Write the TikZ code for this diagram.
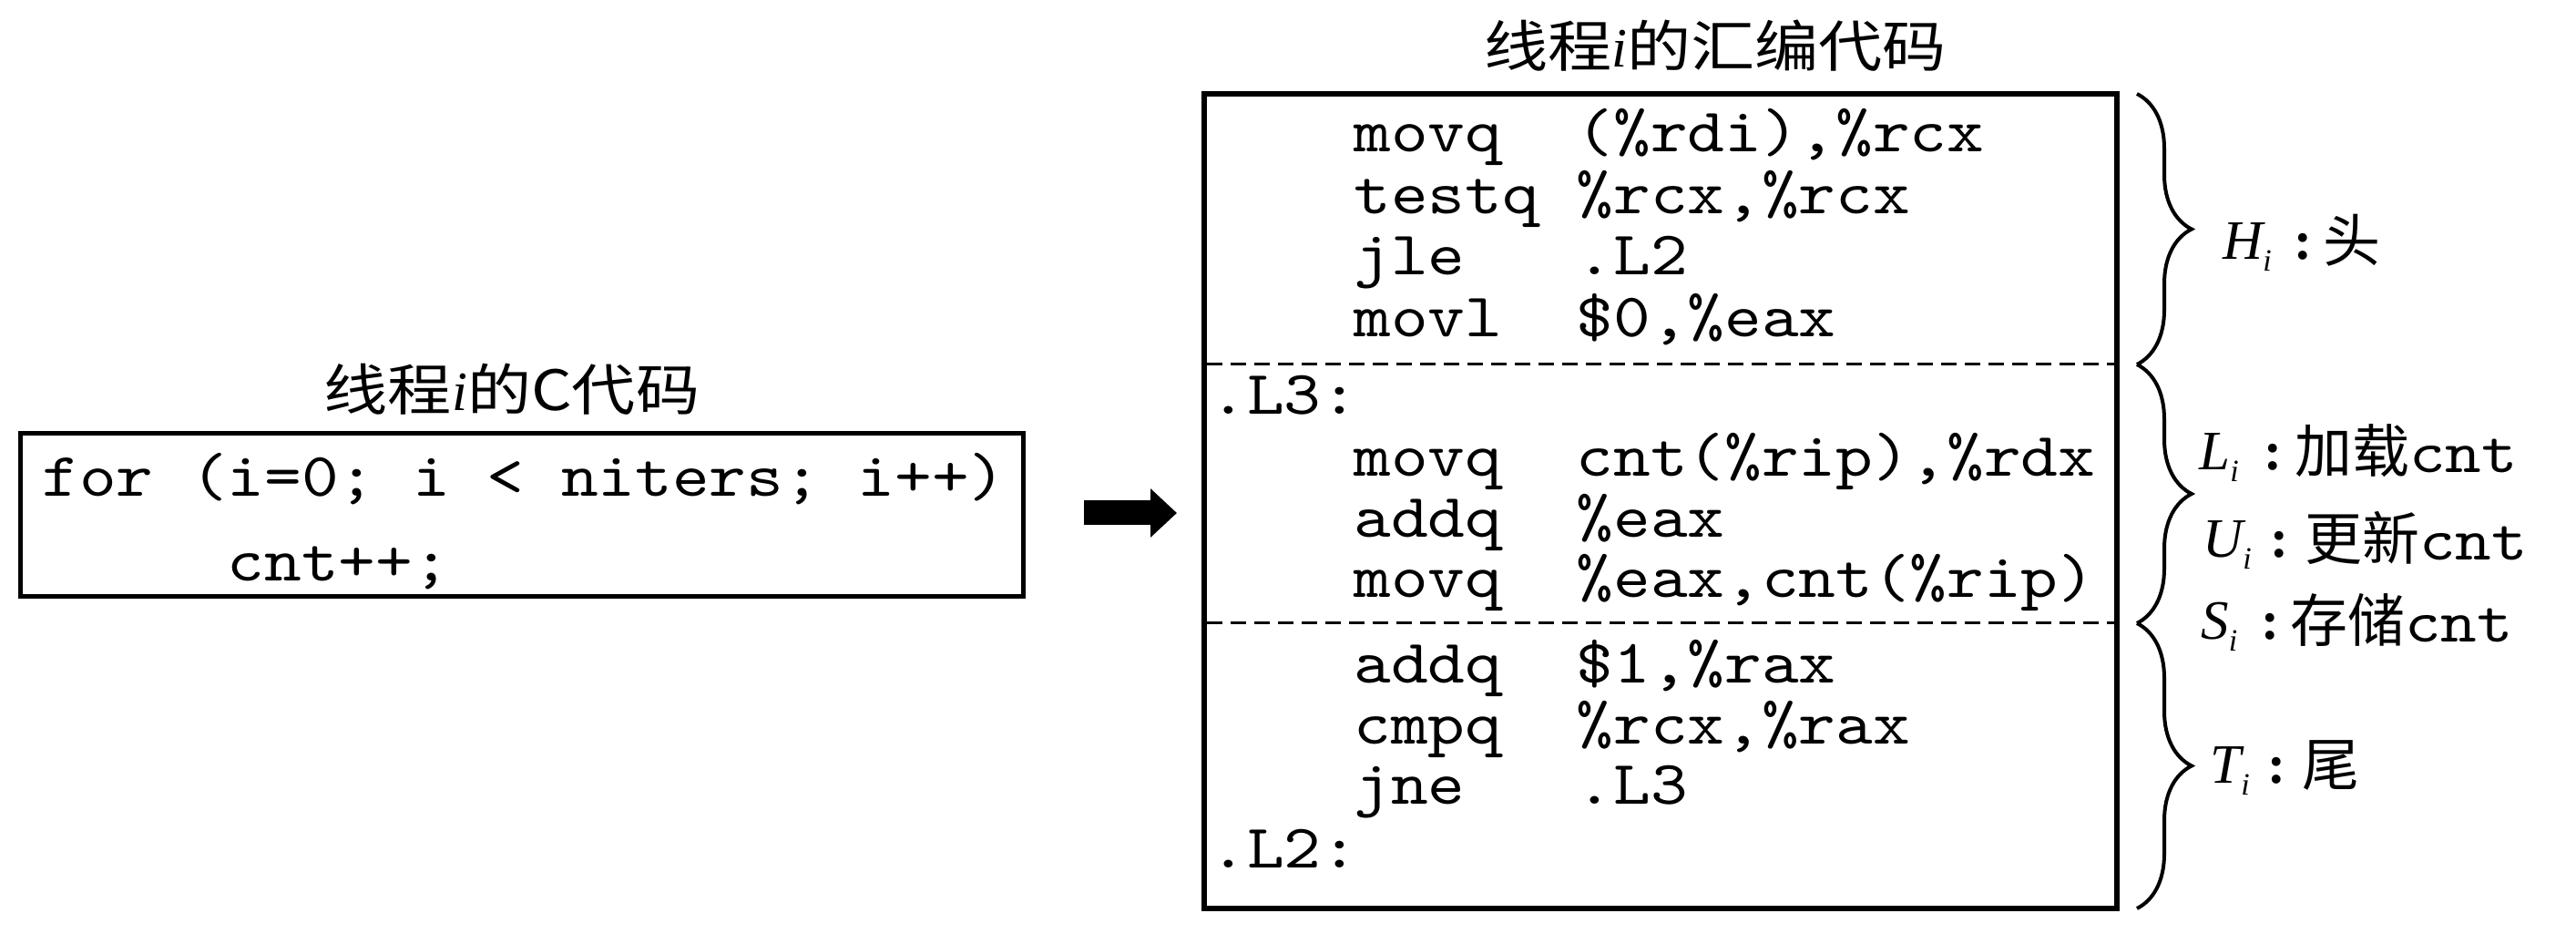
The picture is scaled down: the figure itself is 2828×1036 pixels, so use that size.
\documentclass[tikz,border=0pt]{standalone}
\usepackage{fontspec}
\newfontfamily\codefont{lmmono10-regular.otf}[FakeStretch=1.14]
\newfontfamily\cjkt[FakeStretch=1.15]{Noto Sans CJK SC}
\newfontfamily\cjkl{Noto Sans CJK SC}
\newfontfamily\timesf{Liberation Serif}
\usetikzlibrary{arrows.meta,decorations.pathreplacing}
\newcommand\subi{\raisebox{-0.2em}{\fontsize{17}{17}\selectfont i}}
\newcommand\cntw{{\fontsize{33}{33}\selectfont\codefont cnt}}
\begin{document}
\begin{tikzpicture}[x=0.5pt,y=-0.5pt,
  code/.style={font=\fontsize{34}{34}\selectfont\codefont, inner sep=0pt, anchor=base west},
  titlestyle/.style={font=\fontsize{30.5}{30.5}\selectfont\cjkt, inner sep=0pt, anchor=base},
  lbl/.style={font=\fontsize{30.5}{30.5}\selectfont\timesf\itshape, inner sep=0pt, anchor=base west},
  colonstyle/.style={font=\fontsize{30}{30}\selectfont\timesf\bfseries, inner sep=0pt, anchor=base},
  ltxt/.style={font=\fontsize{31.5}{31.5}\selectfont\cjkl, inner sep=0pt, anchor=base west},
  boxstyle/.style={draw=black, inner sep=0pt},
  dashline/.style={line width=1.5pt, dash pattern=on 8.5pt off 4.5pt},
  bracestyle/.style={line width=2pt, decorate, decoration={brace, amplitude=30pt}},
  bigarrow/.style={line width=13.5pt, -{Triangle[width=26pt,length=14.5pt]}}
]
\useasboundingbox (0,0) rectangle (2828,1036);
\fill[white] (0,0) rectangle (2828,1036);

% titles
\node[titlestyle] (t1) at (1883,74) {线程{\timesf\itshape i}的汇编代码};
\node[titlestyle] (t2) at (562,451) {线程{\timesf\itshape i}的C代码};

% left box
\node[boxstyle, line width=2.5pt, minimum width=550.5pt, minimum height=89.5pt] (leftbox) at (572.5,565.5) {};
\node[code] (c1) at (46,545) {for~(i=0;~i~<~niters;~i++)};
\node[code] (c2) at (46,638) {~~~~~cnt++;};

% arrow
\coordinate (arrS) at (1190,563);
\coordinate (arrE) at (1292,563);
\draw[bigarrow] (arrS) -- (arrE);

% right box
\node[boxstyle, line width=3pt, minimum width=501pt, minimum height=447pt] (rightbox) at (1823,550) {};
\draw[dashline] (1325,400) -- (2321,400);
\draw[dashline] (1325,684) -- (2321,684);

\node[code] (a1) at (1486,167) {movq~~(\%rdi),\%rcx};
\node[code] (a2) at (1486,235) {testq~\%rcx,\%rcx};
\node[code] (a3) at (1486,302) {jle~~~.L2};
\node[code] (a4) at (1486,370) {movl~~\$0,\%eax};
\node[code] (l3) at (1328,455) {.L3:};
\node[code] (a5) at (1486,523) {movq~~cnt(\%rip),\%rdx};
\node[code] (a6) at (1486,590) {addq~~\%eax};
\node[code] (a7) at (1486,656) {movq~~\%eax,cnt(\%rip)};
\node[code] (a8) at (1486,750) {addq~~\$1,\%rax};
\node[code] (a9) at (1486,817) {cmpq~~\%rcx,\%rax};
\node[code] (a10) at (1486,883) {jne~~~.L3};
\node[code] (l2) at (1328,952) {.L2:};

% braces
\draw[bracestyle] (2346,103) -- (2346,400);
\draw[bracestyle] (2346,400) -- (2346,684);
\draw[bracestyle] (2346,684) -- (2346,997);

% labels
\node[lbl] (hl) at (2440,285) {H\subi};
\node[colonstyle] (hc) at (2528,285) {:};
\node[ltxt] (ht) at (2550,288) {头};

\node[lbl] (ll) at (2414,516) {L\subi};
\node[colonstyle] (lc) at (2495,516) {:};
\node[ltxt] (lt) at (2519,519) {加载\cntw};

\node[lbl] (ul) at (2418,612) {U\subi};
\node[colonstyle] (uc) at (2502,612) {:};
\node[ltxt] (ut) at (2530,615) {更新\cntw};

\node[lbl] (sl) at (2416,702) {S\subi};
\node[colonstyle] (sc) at (2492,702) {:};
\node[ltxt] (st) at (2514,705) {存储\cntw};

\node[lbl] (tl) at (2426,860) {T\subi};
\node[colonstyle] (tc) at (2499,860) {:};
\node[ltxt] (tt) at (2527,863) {尾};
\end{tikzpicture}
\end{document}
